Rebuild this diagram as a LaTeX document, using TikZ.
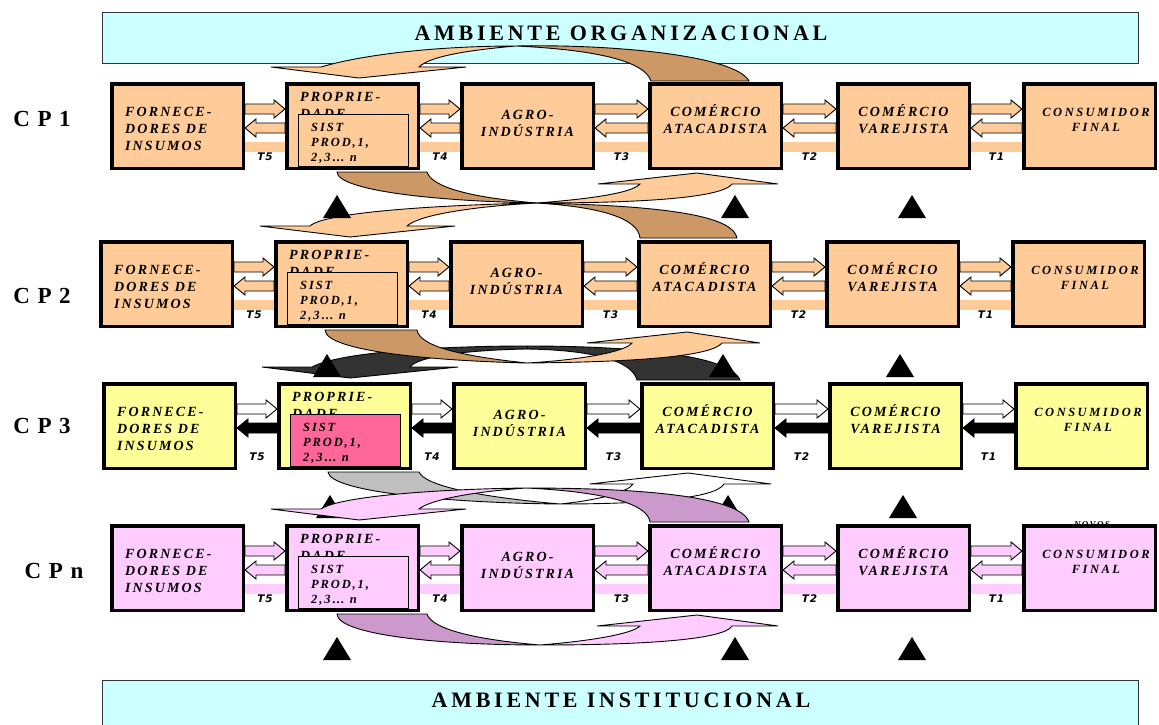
\documentclass[tikz,border=0pt]{standalone}
\usepackage{fontspec}
\setmainfont{Liberation Serif}
\newfontfamily\bannerfont{Liberation Serif}[LetterSpace=17]
\newfontfamily\cpfont{Liberation Serif}[LetterSpace=33]
\newfontfamily\boxfont{Liberation Serif}[LetterSpace=15]
\newfontfamily\consfont{Liberation Serif}[LetterSpace=20]
\newfontfamily\tagfont{DejaVu Sans}[LetterSpace=8]
\usetikzlibrary{calc}

\definecolor{peach}{HTML}{FFCC99}
\definecolor{backtan}{HTML}{CC9966}
\definecolor{paleyellow}{HTML}{FFFF99}
\definecolor{palepink}{HTML}{FFCCFF}
\definecolor{mauve}{HTML}{CC99CC}
\definecolor{hotpink}{HTML}{FF6699}
\definecolor{darkface}{HTML}{333333}
\definecolor{greyface}{HTML}{C0C0C0}
\definecolor{palecyan}{HTML}{CCFFFF}

\tikzset{
  cbox/.style={draw=black, line width=3.5pt, minimum width=131.5pt, minimum height=84.5pt, inner sep=0pt},
  sist/.style={draw=black, line width=0.9pt, minimum width=110pt, minimum height=52pt, inner sep=0pt, anchor=north west},
  boxtxt/.style={font=\boxfont\bfseries\itshape\fontsize{14}{17}\selectfont, inner sep=0pt},
  constxt/.style={font=\consfont\bfseries\itshape\fontsize{12.5}{15.5}\selectfont, inner sep=0pt, align=center},
  sisttxt/.style={font=\boxfont\bfseries\itshape\fontsize{12.5}{15}\selectfont, inner sep=0pt, align=left, anchor=west},
  tlab/.style={font=\tagfont\bfseries\itshape\fontsize{10.5}{12}\selectfont, inner sep=0pt},
  barrow/.style={draw=black, line width=0.9pt, line join=miter},
  ribbon/.style={draw=black, line width=0.9pt},
  banner/.style={draw=black!80, line width=1.2pt, fill=palecyan, inner sep=0pt, anchor=north west},
  bannertxt/.style={font=\bannerfont\bfseries\fontsize{22}{24}\selectfont, inner sep=0pt},
  cplab/.style={font=\cpfont\bfseries\fontsize{23}{24}\selectfont, inner sep=0pt},
}

% pair of block arrows between two neighbouring boxes, with its T label
\newcommand\flowpair[6]{%
  \draw[barrow,fill=#3] let \p1=(#1.north east), \p2=(#2.north west) in
    (\x1,\y1-22pt) -- (\x2-11pt,\y1-22pt) -- (\x2-11pt,\y1-18pt) -- (\x2,\y1-27pt)
    -- (\x2-11pt,\y1-36pt) -- (\x2-11pt,\y1-32pt) -- (\x1,\y1-32pt) -- cycle;
  \draw[barrow,fill=#4] let \p1=(#1.north east), \p2=(#2.north west) in
    (\x2,\y1-41pt) -- (\x1+11pt,\y1-41pt) -- (\x1+11pt,\y1-37pt) -- (\x1,\y1-46pt)
    -- (\x1+11pt,\y1-55pt) -- (\x1+11pt,\y1-51pt) -- (\x2,\y1-51pt) -- cycle;
  \path let \p1=(#1.north east), \p2=(#2.north west) in
    node[tlab] (#5) at ({(\x1+\x2)/2},\y1-75pt) {#6};
}

% one production chain: id, top, x shift, box fill, inner fill, right/left arrow fills, band
\newcommand\chainrow[8]{%
  \path[fill=#8] ({177.5+(#3)},{#2+60}) rectangle ({1089.5+(#3)},{#2+70});
  \foreach \k/\xl in {1/110,2/285,3/460,4/648,5/836,6/1022}
    \node[cbox,fill=#4] (#1b\k) at ({\xl+(#3)+67.5},{#2+44}) {};
  \node[boxtxt,anchor=west,align=left] (#1f) at ($(#1b1.north west)+(15,47)$) {FORNECE-\\DORES DE\\INSUMOS};
  \node[boxtxt,anchor=north west,align=left] (#1p) at ($(#1b2.north west)+(15,10)$) {PROPRIE-\\DADE};
  \node[sist,fill=#5] (#1s) at ($(#1b2.north west)+(13,32)$) {};
  \node[sisttxt] (#1st) at ($(#1s.west)+(13,3)$) {SIST\\PROD,1,\\2,3… n};
  \node[boxtxt,align=center] (#1g) at ($(#1b3.north west)+(67.5,41)$) {AGRO-\\INDÚSTRIA};
  \node[boxtxt,align=center] (#1w) at ($(#1b4.north west)+(67.5,37)$) {COMÉRCIO\\ATACADISTA};
  \node[boxtxt,align=center] (#1v) at ($(#1b5.north west)+(67.5,37)$) {COMÉRCIO\\VAREJISTA};
  \node[constxt] (#1c) at ($(#1b6.north west)+(74,38)$) {CONSUMIDOR\\FINAL};
  \foreach \k in {1,...,5}{%
    \pgfmathtruncatemacro\kn{\k+1}%
    \pgfmathtruncatemacro\tn{6-\k}%
    \flowpair{#1b\k}{#1b\kn}{#6}{#7}{#1t\k}{T\tn}%
  }
}

% small solid triangle, given centre x and base y
\newcommand\marker[2]{\fill[black] ({#1-14},#2) -- ({#1+14},#2) -- (#1,{#2-23}) -- cycle;}

\begin{document}
\begin{tikzpicture}[x=1pt,y=-1pt]
\useasboundingbox (0,0) rectangle (1159,725);

% environments
\node[banner,minimum width=1036pt,minimum height=51pt] (orgbox) at (102,12) {};
\node[bannertxt] (orgtxt) at (621,33) {AMBIENTE ORGANIZACIONAL};
\node[banner,minimum width=1036pt,minimum height=70pt] (instbox) at (102,680) {};
\node[bannertxt] (insttxt) at (621,700) {AMBIENTE INSTITUCIONAL};

% chain labels
\node[cplab] (cp1) at (42,119) {CP1};
\node[cplab] (cp2) at (42,296) {CP2};
\node[cplab] (cp3) at (42,426) {CP3};
\node[cplab] (cpn) at (54,571) {CPn};

\node[font=\boxfont\bfseries\itshape\fontsize{9}{10}\selectfont,inner sep=0pt,anchor=north] (novos) at (1092,521) {NOVOS};

% the four chains
\chainrow{a}{82}{0}{peach}{peach}{peach}{peach}{peach}
\chainrow{b}{240}{-11}{peach}{peach}{peach}{peach}{peach}
\chainrow{c}{382}{-8}{paleyellow}{hotpink}{white}{black}{none}
\chainrow{d}{524}{0}{palepink}{palepink}{palepink}{palepink}{palepink}

% feedback loop over CP1
\draw[ribbon,fill=backtan] (516,46) .. controls (610,44) and (735,55) .. (749,81) -- (651,81)
  .. controls (645,62) and (600,50) .. (516,46) -- cycle;
\draw[ribbon,fill=peach] (271,67) -- (321,67) .. controls (365,54) and (440,46) .. (516,46)
  .. controls (470,50) and (430,56) .. (419,67) -- (466,67) -- (359,78) -- cycle;

% between CP1 and CP2
\draw[ribbon,fill=backtan] (337,172) .. controls (338,190) and (430,201) .. (537,203)
  .. controls (475,198) and (432,188) .. (427,172) -- cycle;
\draw[ribbon,fill=backtan] (537,203) .. controls (600,207) and (638,218) .. (640,238) -- (737,238)
  .. controls (733,218) and (680,206) .. (537,203) -- cycle;
\draw[ribbon,fill=peach] (537,203) .. controls (590,199) and (632,193) .. (640,184) -- (598,184)
  -- (697,173) -- (778,184) -- (732,184) .. controls (722,198) and (640,203) .. (537,203) -- cycle;
\draw[ribbon,fill=peach] (537,203) .. controls (440,205) and (325,212) .. (310,226) -- (260,226)
  -- (350,237) -- (455,226) -- (407,226) .. controls (420,214) and (480,206) .. (537,203) -- cycle;
\marker{337}{218}\marker{735}{218}\marker{912}{218}

% between CP2 and CP3
\draw[ribbon,fill=darkface] (527,346) .. controls (640,346) and (730,356) .. (740,380) -- (637,380)
  .. controls (632,360) and (590,350) .. (527,349) -- cycle;
\draw[ribbon,fill=darkface] (312,367) .. controls (340,352) and (440,346) .. (527,346) -- (527,349)
  .. controls (470,350) and (418,356) .. (410,367) -- (458,367) -- (350,378) -- (262,367) -- cycle;
\draw[ribbon,fill=backtan] (325,330) .. controls (326,352) and (440,361) .. (527,363)
  .. controls (470,357) and (420,348) .. (417,330) -- cycle;
\draw[ribbon,fill=peach] (527,363) .. controls (580,360) and (625,352) .. (632,343) -- (587,343)
  -- (687,332) -- (760,343) -- (722,343) .. controls (712,356) and (640,362) .. (527,363) -- cycle;
\marker{327}{377}\marker{723}{377}\marker{900}{377}

% between CP3 and CPn
\marker{330}{518}\marker{728}{518}\marker{903}{518}
\draw[ribbon,fill=greyface] (328,472) .. controls (330,492) and (450,503) .. (560,504)
  .. controls (480,497) and (425,486) .. (419,472) -- cycle;
\draw[ribbon,fill=white] (560,504) .. controls (600,500) and (628,492) .. (633,484) -- (590,484)
  -- (688,473) -- (771,484) -- (724,484) .. controls (716,498) and (650,504) .. (560,504) -- cycle;
\draw[ribbon,fill=mauve] (526,488) .. controls (640,488) and (740,496) .. (749,522) -- (650,522)
  .. controls (648,505) and (610,492) .. (526,488) -- cycle;
\draw[ribbon,fill=palepink] (526,488) .. controls (440,489) and (340,496) .. (321,509) -- (271,509)
  -- (359,520) -- (466,509) -- (419,509) .. controls (430,500) and (470,492) .. (526,488) -- cycle;

% below CPn
\draw[ribbon,fill=mauve] (337,614) .. controls (338,635) and (440,645) .. (540,645)
  .. controls (480,640) and (432,630) .. (427,614) -- cycle;
\draw[ribbon,fill=palepink] (540,645) .. controls (590,641) and (632,634) .. (640,626) -- (597,626)
  -- (697,615) -- (778,626) -- (732,626) .. controls (724,640) and (640,645) .. (540,645) -- cycle;
\marker{337}{660}\marker{735}{660}\marker{912}{660}
\end{tikzpicture}
\end{document}
